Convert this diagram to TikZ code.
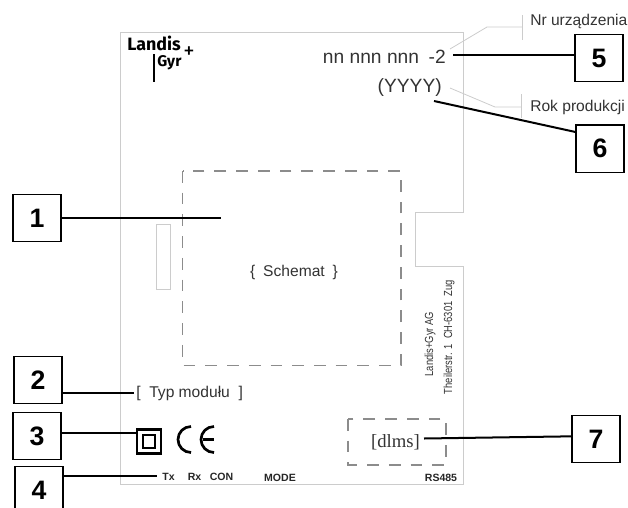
\documentclass[tikz,border=0pt]{standalone}
\usepackage{fontspec}
\setmainfont{Liberation Sans}
\newfontfamily\serifx{Liberation Serif}
\newfontfamily\logofont{Fira Sans}
\definecolor{panel}{HTML}{CCCCCC}
\definecolor{dashc}{HTML}{8C8C8C}
\definecolor{txt}{HTML}{333333}
\tikzset{
  numbox/.style={draw=black,line width=1pt,fill=white,minimum width=36pt,minimum height=35.5pt,inner sep=0pt,font=\bfseries\fontsize{20}{22}\selectfont},
  lead/.style={draw=black,line width=1.5pt},
  thin grey/.style={draw=panel,line width=0.6pt},
  dashbox/.style={draw=dashc,line width=0.9pt,dash pattern=on 8.8pt off 7.5pt},
  label/.style={inner sep=0pt,text=txt,font=\fontsize{11.7}{13}\selectfont},
  small/.style={inner sep=0pt,text=black!85,font=\bfseries\fontsize{7.9}{9}\selectfont}
}
\begin{document}
\begin{tikzpicture}[x=0.75pt,y=-0.75pt]
\useasboundingbox (0,0) rectangle (628,507);
\draw[thin grey] (120,32) -- (463.5,32) -- (463.5,212) -- (415,212) -- (415,266) -- (463.5,266) -- (463.5,484) -- (120,484) -- cycle;
\draw[thin grey] (156,224) rectangle (170,289);
\draw[dashbox] (182.5,171) rectangle (401,365.5);
\draw[dashbox] (348,419) rectangle (446,465);
% logo
\node[inner sep=0pt,anchor=base west,font=\logofont\bfseries\fontsize{13.4}{14}\selectfont] (landis) at (127,50) {Landis};
\node[inner sep=0pt,anchor=base west,font=\logofont\bfseries\fontsize{11.6}{13}\selectfont] (gyr) at (157,66) {Gyr};
\node[inner sep=0pt,font=\logofont\fontsize{17}{17}\selectfont] (plus) at (189,53) {+};
\draw[black,line width=1pt] (154,54) -- (154,82);
% texts
\node[label,font=\fontsize{14.4}{16}\selectfont,anchor=east] (serial) at (446,57) {nn nnn nnn\hspace{0.5em}-2};
\node[label,font=\fontsize{14.4}{16}\selectfont,anchor=east] (year) at (442,88) {(YYYY)};
\node[label,anchor=west] (nr) at (530,21) {Nr urządzenia};
\node[label,anchor=west] (rok) at (530,107) {Rok produkcji};
\node[label] (schema) at (294,272.5) {\{\hspace{0.5em}Schemat\hspace{0.5em}\}};
\node[label,anchor=west] (typ) at (136,393) {[\ \ Typ modułu\ \ ]};
\node[inner sep=0pt,text=txt,font=\serifx\fontsize{14}{16}\selectfont] (dlms) at (395.5,442.5) {[dlms]};
% symbols
\node[draw=black,line width=1.6pt,minimum width=18pt,minimum height=18pt,inner sep=0pt] (dbl) at (149,441.5) {};
\node[draw=black,line width=1.6pt,minimum width=9.5pt,minimum height=9.5pt,inner sep=0pt] at (149,441.5) {};
\draw[black,line width=2pt] (191,426.5) arc[start angle=270,end angle=90,radius=13];
\draw[black,line width=2pt] (214,426.5) arc[start angle=270,end angle=90,radius=13];
\draw[black,line width=2pt] (203,439.5) -- (214,439.5);
% bottom labels
\node[small] (tx) at (168.5,477) {Tx};
\node[small] (rx) at (194.5,477) {Rx};
\node[small] (con) at (221.5,477) {CON};
\node[small] (mode) at (280,477.5) {MODE};
\node[small] (rs) at (441,477.5) {RS485};
% vertical address
\node[inner sep=0pt,rotate=90,text=txt,font=\fontsize{8.8}{10}\selectfont,xscale=0.8] (addr1) at (430,344) {Landis+Gyr AG};
\node[inner sep=0pt,rotate=90,text=txt,font=\fontsize{8.8}{10}\selectfont,xscale=0.8] (addr2) at (449,337) {Theilerstr. 1\ \ CH-6301\ \ Zug};
% grey callouts
\draw[thin grey] (450,49) -- (487,27) -- (522,27);
\draw[thin grey] (522.5,15) -- (522.5,40);
\draw[thin grey] (450,88) -- (495,107) -- (521,107);
\draw[thin grey] (521,94) -- (521,118);
% number boxes
\node[numbox] (n1) at (37,218) {1};
\node[numbox] (n2) at (38,380) {2};
\node[numbox] (n3) at (37,436) {3};
\node[numbox,anchor=north] (n4) at (39,465.5) {4};
\node[numbox] (n5) at (599,58) {5};
\node[numbox] (n6) at (600,148.5) {6};
\node[numbox] (n7) at (596,439) {7};
% leaders
\coordinate (c1) at (221,218);
\coordinate (c2) at (134,392.5);
\coordinate (c3) at (136,433);
\coordinate (c4) at (157,476);
\coordinate (c5) at (453,55);
\coordinate (c6) at (434,101);
\coordinate (c7) at (424,438.5);
\draw[lead] (n1.east) -- (c1);
\draw[lead] (n2.east |- c2) -- (c2);
\draw[lead] (n3.east |- c3) -- (c3);
\draw[lead] (n4.east |- c4) -- (c4);
\draw[lead] (n5.west |- c5) -- (c5);
\draw[lead] ([yshift=12.4pt]n6.west) -- (c6);
\draw[lead] ([yshift=2pt]n7.west) -- (c7);
\end{tikzpicture}
\end{document}
